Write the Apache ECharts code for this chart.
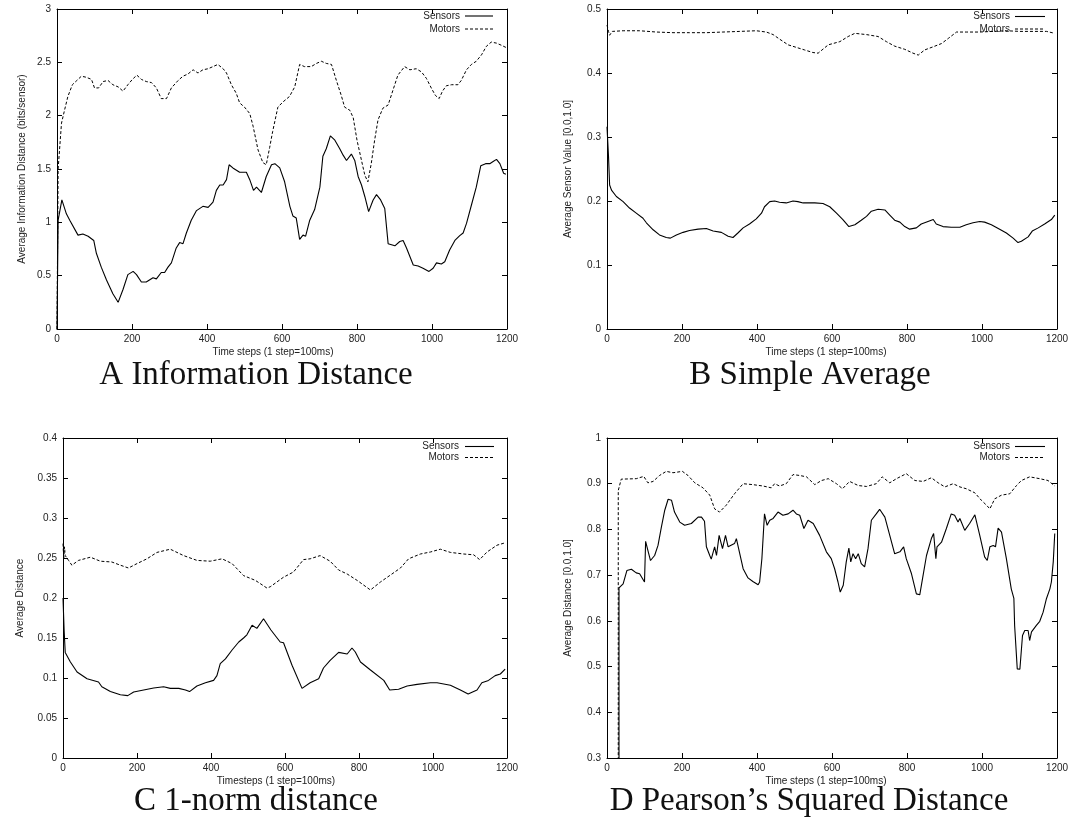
<!DOCTYPE html>
<html>
<head>
<meta charset="utf-8">
<script src="https://cdn.jsdelivr.net/npm/echarts@6/dist/echarts.min.js"></script>
<style>
  html, body { margin: 0; padding: 0; background: #fff; }
  #chart { width: 1073px; height: 825px; }
</style>
</head>
<body>
<div id="chart"></div>
<script>
// ---- Data: time step (x) and averaged value (y) for each run ----

// A: information distance (bits/sensor)
const infoSensorsT = [0,3,13,25,34,56,69,83,98,105,118,132,149,163,176,189,203,212,225,238,256,265,278,287,296,305,318,327,336,345,358,372,389,403,416,425,434,443,452,459,469,487,505,514,524,532,545,558,572,581,594,607,621,629,638,647,656,663,674,687,701,709,718,729,741,754,763,772,785,794,803,812,821,831,843,852,863,874,883,901,914,923,932,950,963,976,992,1003,1012,1025,1034,1047,1061,1074,1083,1092,1105,1118,1130,1143,1154,1163,1172,1181,1191,1197];
const infoSensors  = [0,1.02,1.21,1.08,1.02,0.88,0.89,0.87,0.83,0.71,0.58,0.46,0.33,0.25,0.37,0.51,0.54,0.51,0.44,0.44,0.48,0.47,0.53,0.53,0.58,0.62,0.76,0.81,0.80,0.90,1.02,1.11,1.15,1.14,1.19,1.30,1.35,1.35,1.40,1.54,1.51,1.47,1.47,1.40,1.30,1.33,1.28,1.43,1.54,1.55,1.51,1.38,1.15,1.06,1.04,0.84,0.88,0.87,1.02,1.12,1.33,1.62,1.69,1.81,1.77,1.69,1.63,1.58,1.64,1.58,1.43,1.35,1.24,1.10,1.21,1.26,1.21,1.13,0.80,0.78,0.82,0.83,0.76,0.60,0.59,0.57,0.54,0.57,0.62,0.61,0.63,0.74,0.83,0.875,0.90,0.99,1.16,1.33,1.53,1.55,1.55,1.57,1.59,1.55,1.46,1.45];
const infoMotorsT  = [0,3,12,20,29,41,53,65,78,92,100,111,123,136,149,163,176,189,201,213,225,238,252,265,278,292,305,323,336,349,363,376,389,403,416,429,443,452,465,478,487,500,514,523,536,549,558,567,575,589,603,620,634,647,660,678,692,705,718,732,745,758,767,781,790,800,812,821,829,838,847,856,869,883,896,909,927,941,958,972,985,998,1009,1019,1028,1038,1052,1069,1078,1092,1105,1118,1132,1145,1158,1172,1185,1197];
const infoMotors   = [0,1.5,1.93,2.05,2.18,2.29,2.33,2.37,2.36,2.34,2.26,2.26,2.32,2.33,2.29,2.27,2.23,2.29,2.34,2.38,2.34,2.32,2.31,2.26,2.16,2.16,2.26,2.33,2.37,2.39,2.43,2.40,2.43,2.44,2.46,2.48,2.44,2.40,2.29,2.21,2.12,2.08,2.02,1.90,1.68,1.56,1.54,1.70,1.85,2.08,2.13,2.18,2.27,2.48,2.46,2.46,2.49,2.51,2.49,2.48,2.33,2.19,2.08,2.05,1.98,1.77,1.58,1.44,1.38,1.55,1.77,1.96,2.07,2.10,2.24,2.38,2.46,2.43,2.44,2.41,2.35,2.26,2.19,2.16,2.23,2.28,2.29,2.29,2.33,2.43,2.48,2.51,2.57,2.65,2.69,2.68,2.66,2.64];

// B: simple average sensor value
const avgSensorsT = [0,4,7,12,25,43,60,78,96,105,123,140,158,169,185,203,220,243,265,283,305,323,336,349,363,380,398,412,420,434,447,460,478,496,509,523,540,554,576,594,612,629,645,661,678,692,705,723,741,754,767,781,794,807,825,838,856,870,878,896,918,941,958,976,994,1007,1025,1047,1065,1083,1096,1105,1123,1134,1150,1167,1185,1194];
const avgSensors  = [0.316,0.27,0.225,0.217,0.207,0.199,0.189,0.181,0.173,0.166,0.155,0.147,0.143,0.142,0.147,0.151,0.154,0.156,0.157,0.153,0.151,0.145,0.143,0.150,0.158,0.164,0.172,0.181,0.191,0.199,0.200,0.198,0.197,0.200,0.199,0.197,0.197,0.197,0.196,0.191,0.181,0.171,0.160,0.163,0.170,0.176,0.184,0.187,0.186,0.178,0.170,0.167,0.160,0.156,0.158,0.164,0.168,0.171,0.164,0.160,0.159,0.159,0.163,0.166,0.168,0.167,0.163,0.156,0.150,0.142,0.135,0.137,0.144,0.153,0.158,0.164,0.171,0.178];
const avgMotorsT  = [0,4,7,14,43,87,132,176,220,265,309,354,398,425,443,460,483,505,527,549,563,590,621,643,661,692,723,745,767,794,816,830,847,870,892,910,932,958,994,1030,1065,1101,1136,1172,1194];
const avgMotors   = [0.475,0.465,0.459,0.465,0.466,0.466,0.464,0.463,0.463,0.463,0.464,0.465,0.466,0.464,0.460,0.453,0.444,0.440,0.436,0.432,0.431,0.444,0.449,0.457,0.462,0.460,0.457,0.449,0.442,0.437,0.431,0.428,0.436,0.441,0.446,0.454,0.464,0.464,0.464,0.465,0.466,0.465,0.465,0.465,0.462];

// C: 1-norm distance
const normSensorsT = [0,3,6,20,38,65,96,105,128,155,175,191,218,245,272,290,313,331,342,362,385,407,416,425,439,457,475,488,497,511,524,542,562,587,596,619,646,668,691,704,722,745,768,781,790,804,831,867,883,907,930,957,993,1011,1047,1074,1095,1119,1132,1150,1168,1182,1195];
const normSensors  = [0.2,0.16,0.132,0.12,0.1075,0.099,0.095,0.089,0.083,0.079,0.078,0.0825,0.085,0.0875,0.089,0.087,0.087,0.085,0.083,0.090,0.094,0.097,0.103,0.118,0.124,0.135,0.145,0.150,0.154,0.166,0.162,0.174,0.160,0.145,0.144,0.116,0.087,0.094,0.099,0.1125,0.122,0.132,0.130,0.1375,0.1325,0.12,0.110,0.097,0.085,0.086,0.090,0.092,0.094,0.094,0.091,0.085,0.080,0.085,0.094,0.097,0.103,0.105,0.111];
const normMotorsT  = [0,2,4,6,15,24,42,74,101,132,155,177,200,227,254,290,326,362,398,430,457,488,520,551,560,596,623,650,668,695,722,745,768,795,831,858,889,912,934,966,993,1020,1047,1083,1110,1126,1146,1173,1195];
const normMotors   = [0.268,0.249,0.264,0.253,0.247,0.241,0.247,0.251,0.246,0.245,0.241,0.2375,0.243,0.249,0.257,0.261,0.253,0.247,0.246,0.249,0.243,0.228,0.222,0.2125,0.214,0.226,0.2325,0.248,0.249,0.253,0.246,0.235,0.230,0.222,0.210,0.220,0.230,0.2375,0.249,0.255,0.2575,0.261,0.257,0.255,0.254,0.248,0.2575,0.266,0.269];

// D: Pearson's squared distance
const pearSensorsT = [32,32,43,53,65,78,87,100,103,109,116,127,136,145,154,163,172,180,194,207,225,243,252,260,265,274,278,287,292,299,308,316,323,340,345,363,376,389,403,407,413,420,427,434,443,456,469,483,496,505,514,525,536,550,567,585,598,607,616,622,630,638,645,650,656,663,670,678,687,696,705,718,727,741,754,767,781,791,798,812,825,834,843,852,865,871,877,880,892,905,918,927,936,941,954,967,981,994,1007,1014,1021,1030,1036,1043,1052,1065,1078,1085,1087,1094,1101,1108,1114,1123,1127,1132,1145,1154,1163,1172,1181,1185,1190,1194];
const pearSensors  = [0,0.672,0.681,0.71,0.713,0.705,0.703,0.685,0.774,0.754,0.732,0.743,0.765,0.805,0.842,0.866,0.864,0.838,0.816,0.809,0.813,0.827,0.827,0.818,0.762,0.743,0.735,0.762,0.743,0.787,0.758,0.787,0.762,0.769,0.780,0.714,0.694,0.686,0.679,0.685,0.736,0.834,0.809,0.820,0.824,0.838,0.831,0.834,0.842,0.834,0.831,0.802,0.820,0.813,0.787,0.751,0.736,0.714,0.685,0.663,0.678,0.729,0.759,0.729,0.747,0.736,0.747,0.725,0.718,0.758,0.820,0.834,0.844,0.827,0.787,0.747,0.751,0.762,0.736,0.703,0.659,0.657,0.700,0.743,0.780,0.791,0.736,0.762,0.772,0.802,0.834,0.831,0.816,0.824,0.798,0.813,0.832,0.787,0.740,0.732,0.762,0.765,0.762,0.803,0.794,0.736,0.670,0.649,0.590,0.495,0.494,0.568,0.579,0.579,0.557,0.576,0.590,0.599,0.619,0.649,0.670,0.685,0.729,0.791];
const pearMotorsT  = [30,30,38,78,98,109,123,140,158,176,201,216,234,256,274,287,300,318,340,363,389,416,438,447,460,478,496,514,532,554,572,590,612,628,647,670,692,718,734,754,772,798,821,843,865,883,901,923,941,958,981,998,1012,1021,1034,1052,1074,1092,1105,1127,1154,1176,1194];
const pearMotors   = [0,0.885,0.91,0.911,0.916,0.902,0.905,0.918,0.927,0.924,0.927,0.918,0.902,0.891,0.875,0.845,0.838,0.853,0.878,0.900,0.898,0.895,0.891,0.900,0.895,0.900,0.920,0.918,0.915,0.898,0.907,0.911,0.900,0.889,0.905,0.896,0.894,0.900,0.915,0.902,0.911,0.922,0.907,0.905,0.913,0.902,0.893,0.900,0.893,0.889,0.880,0.864,0.853,0.845,0.867,0.875,0.878,0.896,0.907,0.915,0.911,0.907,0.895];

// Axis tick settings
const timeTicks = { min: 0, max: 1200, step: 200 };
const infoTicks = { min: 0, max: 3, step: 0.5 };
const avgTicks  = { min: 0, max: 0.5, step: 0.1 };
const normTicks = { min: 0, max: 0.4, step: 0.05 };
const pearTicks = { min: 0.3, max: 1, step: 0.1 };

const seriesNames = ['Sensors', 'Motors'];

// ---- Layout of the four panels ----
const panels = [
  { grid: { left: 57, top: 9, width: 450, height: 320 }, yTicks: infoTicks,
    yName: 'Average Information Distance (bits/sensor)', yGap: 30,
    xName: 'Time steps (1 step=100ms)', xShift: 18,
    caption: 'A Information Distance', capX: 256, capY: 375,
    key: { textRight: 460, lineFrom: 465, lineTo: 493, rows: [16, 29] },
    s: [infoSensorsT, infoSensors], m: [infoMotorsT, infoMotors] },
  { grid: { left: 607, top: 9, width: 450, height: 320 }, yTicks: avgTicks,
    yName: 'Average Sensor Value [0.0,1.0]', yGap: 34,
    xName: 'Time steps (1 step=100ms)', xShift: 12,
    caption: 'B Simple Average', capX: 810, capY: 375,
    key: { textRight: 1010, lineFrom: 1015, lineTo: 1045, rows: [16.5, 29] },
    s: [avgSensorsT, avgSensors], m: [avgMotorsT, avgMotors] },
  { grid: { left: 63, top: 438, width: 444, height: 320 }, yTicks: normTicks,
    yName: 'Average Distance', yGap: 38,
    xName: 'Timesteps (1 step=100ms)', xShift: 18,
    caption: 'C 1-norm distance', capX: 256, capY: 801,
    key: { textRight: 459, lineFrom: 465, lineTo: 494, rows: [446.5, 457.5] },
    s: [normSensorsT, normSensors], m: [normMotorsT, normMotors] },
  { grid: { left: 607, top: 438, width: 450, height: 320 }, yTicks: pearTicks,
    yName: 'Average Distance [0.0,1.0]', yGap: 34,
    xName: 'Time steps (1 step=100ms)', xShift: 12,
    caption: 'D Pearson\u2019s Squared Distance', capX: 809, capY: 801,
    key: { textRight: 1010, lineFrom: 1015, lineTo: 1045, rows: [446.5, 457.5] },
    s: [pearSensorsT, pearSensors], m: [pearMotorsT, pearMotors] }
];

const SANS = '"Liberation Sans", Arial, sans-serif';
const SERIF = '"Liberation Serif", "Times New Roman", serif';
const INK = '#000';
const sensorLine = { color: INK, width: 1.1, type: 'solid' };
const motorLine = { color: INK, width: 1, type: [3, 2] };
const lineStyles = [sensorLine, motorLine];

const zip = (xs, ys) => xs.map((x, k) => [x, ys[k]]);

const frameLine = { show: true, onZero: false, lineStyle: { color: INK, width: 1 } };
const innerTick = { show: true, inside: true, length: 5, lineStyle: { color: INK, width: 1 } };
const tickLabel = { color: '#222', fontSize: 10, fontFamily: SANS, formatter: v => String(+v.toFixed(3)) };

const option = {
  animation: false,
  backgroundColor: '#fff',
  grid: [], xAxis: [], yAxis: [], series: [], graphic: []
};

panels.forEach((p, i) => {
  option.grid.push(Object.assign({ containLabel: false }, p.grid));

  const xBase = { type: 'value', gridIndex: i, min: timeTicks.min, max: timeTicks.max,
    interval: timeTicks.step, splitLine: { show: false }, axisLine: frameLine, axisTick: innerTick };
  option.xAxis.push(Object.assign({}, xBase, {
    position: 'bottom',
    axisLabel: Object.assign({ margin: 5 }, tickLabel),
    name: p.xName, nameLocation: 'middle', nameGap: 18,
    nameTextStyle: { color: '#222', fontSize: 10, fontFamily: SANS, padding: [0, p.xShift, 0, 0] }
  }));
  option.xAxis.push(Object.assign({}, xBase, { position: 'top', axisLabel: { show: false } }));

  const yBase = { type: 'value', gridIndex: i, min: p.yTicks.min, max: p.yTicks.max,
    interval: p.yTicks.step, splitLine: { show: false }, axisLine: frameLine, axisTick: innerTick };
  option.yAxis.push(Object.assign({}, yBase, {
    position: 'left',
    axisLabel: Object.assign({ margin: 6 }, tickLabel),
    name: p.yName, nameLocation: 'middle', nameGap: p.yGap, nameRotate: 90,
    nameTextStyle: { color: '#222', fontSize: 10, fontFamily: SANS }
  }));
  option.yAxis.push(Object.assign({}, yBase, { position: 'right', axisLabel: { show: false } }));

  [p.s, p.m].forEach((d, k) => {
    option.series.push({
      type: 'line', name: seriesNames[k], xAxisIndex: 2 * i, yAxisIndex: 2 * i,
      data: zip(d[0], d[1]), symbol: 'none', showSymbol: false, clip: true,
      lineStyle: lineStyles[k], itemStyle: { color: INK }
    });
  });

  // Key: right-aligned name followed by a sample of the line style
  seriesNames.forEach((name, k) => {
    const y = p.key.rows[k];
    option.graphic.push({
      type: 'text', x: p.key.textRight, y: y, silent: true,
      style: { text: name, fill: '#222', font: '10px ' + SANS, align: 'right', verticalAlign: 'middle' }
    });
    option.graphic.push({
      type: 'line', silent: true,
      shape: { x1: p.key.lineFrom, y1: y, x2: p.key.lineTo, y2: y },
      style: { stroke: INK, lineWidth: lineStyles[k].width,
        lineDash: k === 1 ? motorLine.type : null }
    });
  });

  option.graphic.push({
    type: 'text', x: p.capX, y: p.capY, silent: true,
    style: { text: p.caption, fill: '#111', font: '33px ' + SERIF,
      align: 'center', verticalAlign: 'middle' }
  });
});

const chart = echarts.init(document.getElementById('chart'), null, { renderer: 'canvas' });
chart.setOption(option);
</script>
</body>
</html>
